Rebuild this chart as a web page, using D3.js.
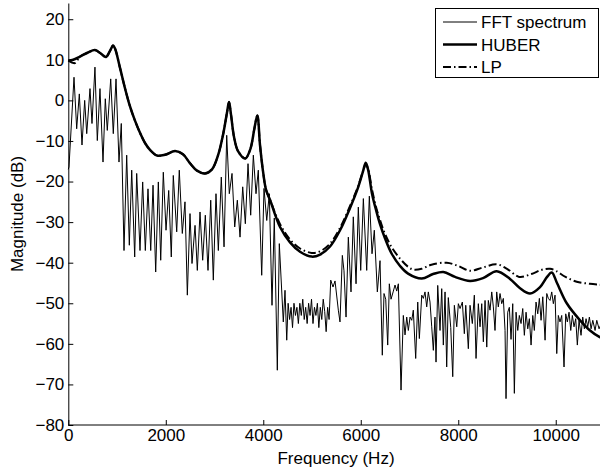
<!DOCTYPE html>
<meta charset="utf-8">
<style>
body { margin: 0; background: #fff; }
svg { font-family: "Liberation Sans", Arial, Helvetica, sans-serif; }
.axis path, .axis line { stroke: #000; }
.axis text { font-size: 17px; fill: #000; }
</style>
<svg width="600" height="469"></svg>
<script src="https://d3js.org/d3.v7.min.js"></script>
<script>

// values: [frequency in Hz, magnitude in dB]
var fftSpectrum = [
  [0,-17],[14,-16.4],[117,5.7],[172,-7],[226,1.6],[281,-11],[336,0],[378,-8.2],[445,2.9],[486,-5.7],
  [547,8.2],[595,-9.9],[650,2.9],[712,-15.2],[759,0.4],[800,-7.4],[870,5.3],[923,-8.2],[979,5.3],[1040,-15.2],
  [1087,-5.7],[1143,-37],[1198,-13.5],[1252,-35.7],[1301,-17.2],[1362,-38.6],[1403,-18],[1471,-37],[1526,-20.1],[1580,-37],
  [1635,-21.8],[1691,-37],[1738,-20.9],[1793,-42.3],[1847,-20.1],[1896,-39.4],[1949,-17.7],[2005,-32],[2060,-22.2],[2113,-38.6],
  [2154,-18.5],[2224,-32.4],[2277,-17.2],[2339,-32.8],[2394,-25],[2442,-48],[2497,-27.9],[2538,-40.2],[2600,-30.8],[2647,-41.9],
  [2702,-27.5],[2757,-39.4],[2811,-28.3],[2866,-41.9],[2922,-24.6],[2975,-44.3],[3030,-23],[3078,-37],[3139,-18.9],[3195,-36.1],
  [3250,-8.6],[3303,-23],[3359,-18],[3414,-31.2],[3468,-24.6],[3523,-33.7],[3578,-21.3],[3632,-30.4],[3687,-15.6],[3742,-28.3],
  [3796,-13.5],[3851,-23],[3898,-17.2],[3968,-43.1],[4015,-21.7],[4071,-29.6],[4124,-23],[4179,-50.5],[4226,-29],[4288,-66.5],
  [4329,-35.3],[4411,-54.6],[4446,-46.8],[4481,-59.1],[4510,-50],[4540,-54],[4570,-51],[4600,-56],[4630,-50],[4660,-53],
  [4690,-51],[4720,-55],[4750,-50],[4780,-53],[4810,-49],[4840,-54],[4870,-51],[4900,-55],[4930,-50],[4960,-53],
  [4990,-49],[5020,-55],[5050,-51],[5080,-53],[5110,-50],[5140,-56],[5170,-51],[5200,-54],[5230,-49],[5260,-52],
  [5290,-57],[5320,-51],[5350,-54],[5384,-44.3],[5431,-46],[5472,-44.5],[5540,-51.7],[5574,-54.6],[5622,-38.2],[5656,-42],
  [5698,-53.4],[5745,-33.7],[5800,-47.2],[5847,-28.7],[5903,-45.2],[5950,-26.3],[5999,-41.9],[6053,-24.2],[6122,-41.9],[6176,-23.6],
  [6231,-37.8],[6278,-32],[6340,-47.2],[6395,-39.5],[6442,-62.8],[6477,-47.6],[6512,-49],[6553,-60.3],[6586,-45.2],[6621,-49],
  [6669,-47],[6703,-45.5],[6738,-47],[6771,-45.2],[6826,-71.4],[6873,-53],[6908,-57.8],[6943,-53.4],[6976,-56.7],[7011,-53.4],
  [7046,-54.2],[7078,-51.7],[7127,-63.6],[7169,-49.7],[7202,-58.7],[7251,-48],[7284,-48.8],[7318,-47.2],[7353,-50.9],[7386,-47.2],
  [7421,-49.7],[7456,-55.8],[7489,-61.6],[7523,-53.4],[7544,-64.5],[7579,-45.6],[7626,-56.7],[7661,-46.4],[7694,-60.3],[7729,-47.2],
  [7763,-65.7],[7796,-48.6],[7846,-56],[7887,-68.1],[7920,-50.5],[7969,-55.8],[8002,-50.1],[8037,-51.3],[8084,-49.7],[8125,-57.5],
  [8154,-50.5],[8207,-61.2],[8242,-50.5],[8289,-55],[8330,-48],[8365,-63.6],[8412,-50.1],[8447,-55.8],[8482,-50.1],[8515,-59.5],
  [8550,-49.3],[8585,-60.8],[8617,-49.3],[8652,-51.7],[8687,-47.2],[8720,-50.9],[8754,-56.7],[8789,-47.2],[8822,-50.9],[8857,-47.6],
  [8892,-50.1],[8925,-48.8],[8960,-56.7],[8980,-73.5],[9015,-52.2],[9048,-51],[9083,-58.9],[9118,-50.1],[9151,-72.2],[9186,-52.2],
  [9221,-56.7],[9253,-53],[9288,-55],[9323,-51.3],[9356,-57.9],[9391,-52.2],[9426,-56.3],[9459,-53.8],[9494,-60.3],[9529,-53],
  [9561,-56.7],[9596,-49.7],[9631,-52.6],[9664,-48.8],[9699,-54.2],[9734,-48.4],[9781,-59.1],[9816,-47.6],[9848,-48.8],[9883,-49.3],
  [9918,-47.2],[9951,-50.1],[9986,-48],[10021,-62.4],[10053,-53],[10088,-54.6],[10123,-53],[10170,-65.7],[10205,-52.6],[10238,-54.6],
  [10273,-52.2],[10308,-56.7],[10341,-53],[10375,-55.8],[10410,-53.8],[10443,-60.3],[10478,-54.2],[10519,-57.9],[10554,-53.4],[10587,-56.3],
  [10622,-53.8],[10657,-55.8],[10690,-53.4],[10725,-56.3],[10760,-54.2],[10807,-56.7],[10842,-54.2],[10889,-56.3],[10950,-54.5],[11025,-56]
];

var huber = [
  [0,9.8],[100,10],[240,10.8],[404,11.8],[547,12.4],[671,11.5],[773,10.7],[855,12.2],[917,13.5],[958,12.8],
  [1061,8],[1163,3],[1266,-1.5],[1368,-5],[1471,-8],[1574,-10.5],[1676,-12.2],[1820,-13.6],[1985,-13.4],[2190,-12.5],
  [2353,-13.3],[2497,-15.5],[2640,-17.3],[2805,-18],[2948,-17],[3073,-13.5],[3174,-8.5],[3256,-3],[3297,-0.4],[3338,-3.5],
  [3400,-9],[3482,-12.5],[3632,-14.3],[3735,-12],[3817,-7],[3878,-3.7],[3933,-11],[3995,-17.5],[4056,-22],[4138,-24.5],
  [4344,-31.2],[4549,-35],[4754,-37.3],[4994,-38.5],[5165,-38],[5370,-36],[5575,-32],[5780,-26.5],[5944,-21.5],[6046,-17.5],
  [6102,-15.4],[6149,-17],[6231,-23],[6313,-27],[6395,-30.5],[6497,-34],[6635,-37.8],[6806,-40.8],[6970,-42.7],[7251,-43.9],
  [7483,-42.8],[7694,-42.3],[7934,-43.5],[8242,-44.5],[8508,-43.8],[8789,-42.1],[9062,-44],[9268,-46.3],[9473,-47.6],[9678,-46],
  [9822,-43.5],[9918,-42.4],[10026,-45],[10226,-50],[10499,-54.2],[10704,-56.7],[10895,-58.3],[11025,-59]
];

var lp = [
  [0,9.8],[137,9.2],[240,10.8],[404,11.8],[547,12.4],[671,11.5],[773,10.7],[855,12.2],[917,13.5],[958,12.8],
  [1061,8],[1163,3],[1266,-1.5],[1368,-5],[1471,-8],[1574,-10.5],[1676,-12.2],[1820,-13.6],[1985,-13.4],[2190,-12.5],
  [2353,-13.3],[2497,-15.5],[2640,-17.3],[2805,-18],[2948,-17],[3073,-13.5],[3174,-8.5],[3256,-3],[3297,-0.4],[3338,-3.5],
  [3400,-9],[3482,-12.5],[3632,-14.3],[3735,-12],[3817,-7],[3878,-3.7],[3933,-11],[3995,-17.5],[4056,-22],[4138,-24.5],
  [4344,-30.5],[4549,-34.3],[4754,-36.5],[4994,-37.6],[5165,-37.2],[5370,-35.3],[5575,-31.4],[5780,-26],[5944,-21.2],[6046,-17.5],
  [6102,-15.8],[6149,-16.8],[6231,-22],[6313,-26.3],[6395,-29.5],[6500,-33],[6635,-36.2],[6806,-39],[6970,-41],[7078,-41.7],
  [7250,-41.5],[7450,-40.5],[7763,-40],[8000,-40.8],[8242,-42],[8500,-41.2],[8789,-40.4],[9000,-41.5],[9250,-43.5],[9500,-42.8],
  [9700,-41.8],[9883,-41.5],[10000,-42],[10200,-43.5],[10430,-44.7],[10700,-45.2],[10895,-45.4],[11025,-45.5]
];

var xTicks = [0, 2000, 4000, 6000, 8000, 10000];
var yTicks = [20, 10, 0, -10, -20, -30, -40, -50, -60, -70, -80];
var legendLabels = ["FFT spectrum", "HUBER", "LP"];

var svg = d3.select("svg");

var x = d3.scaleLinear().domain([0, 11025]).range([68.3, 605.7]);
var y = d3.scaleLinear().domain([-80, 24]).range([425, 3]);

var fmt = function(d) { return d < 0 ? "\u2212" + Math.abs(d) : String(d); };

var line = d3.line()
    .x(function(d) { return x(d[0]); })
    .y(function(d) { return y(d[1]); });

// the envelopes are smooth curves
var smoothLine = d3.line()
    .x(function(d) { return x(d[0]); })
    .y(function(d) { return y(d[1]); })
    .curve(d3.curveCatmullRom.alpha(0.5));

svg.append("path")
    .datum(fftSpectrum)
    .attr("d", line)
    .attr("fill", "none")
    .attr("stroke", "#000")
    .attr("stroke-width", 1)
    .attr("stroke-linejoin", "round");

svg.append("path")
    .datum(lp)
    .attr("d", smoothLine)
    .attr("fill", "none")
    .attr("stroke", "#000")
    .attr("stroke-width", 2)
    .attr("stroke-dasharray", "8,3,1.5,3");

svg.append("path")
    .datum(huber)
    .attr("d", smoothLine)
    .attr("fill", "none")
    .attr("stroke", "#000")
    .attr("stroke-width", 2.5)
    .attr("stroke-linejoin", "round");

// axes, ticks pointing inward like matlab
var xAxis = svg.append("g")
    .attr("class", "axis")
    .attr("transform", "translate(0,425)")
    .call(d3.axisBottom(x).tickValues(xTicks).tickFormat(fmt).tickSizeInner(-5).tickSizeOuter(0).tickPadding(4));
xAxis.select(".domain").attr("d", "M" + x(0) + ",0H600");

var yAxis = svg.append("g")
    .attr("class", "axis")
    .attr("transform", "translate(68.3,0)")
    .call(d3.axisLeft(y).tickValues(yTicks).tickFormat(fmt).tickSizeInner(-5).tickSizeOuter(0).tickPadding(4));

svg.selectAll(".axis .domain").attr("stroke-width", 1);

svg.append("text")
    .attr("x", 336)
    .attr("y", 464)
    .attr("text-anchor", "middle")
    .style("font-size", "17px")
    .text("Frequency (Hz)");

svg.append("text")
    .attr("transform", "translate(23,214) rotate(-90)")
    .attr("text-anchor", "middle")
    .style("font-size", "17px")
    .text("Magnitude (dB)");

// legend
var legend = svg.append("g");
legend.append("rect")
    .attr("x", 435.5).attr("y", 8.5)
    .attr("width", 163).attr("height", 69)
    .attr("fill", "#fff").attr("stroke", "#000").attr("stroke-width", 1);

var rowY = [22, 44.5, 67];
var rowWidth = [1, 2.5, 2];
var rowDash = [null, null, "8,3,1.5,3"];

legendLabels.forEach(function(label, i) {
  legend.append("line")
      .attr("x1", 443).attr("x2", 477)
      .attr("y1", rowY[i]).attr("y2", rowY[i])
      .attr("stroke", "#000")
      .attr("stroke-width", rowWidth[i])
      .attr("stroke-dasharray", rowDash[i]);
  legend.append("text")
      .attr("x", 481)
      .attr("y", rowY[i])
      .attr("dy", "0.36em")
      .style("font-size", "17px")
      .text(label);
});

</script>
